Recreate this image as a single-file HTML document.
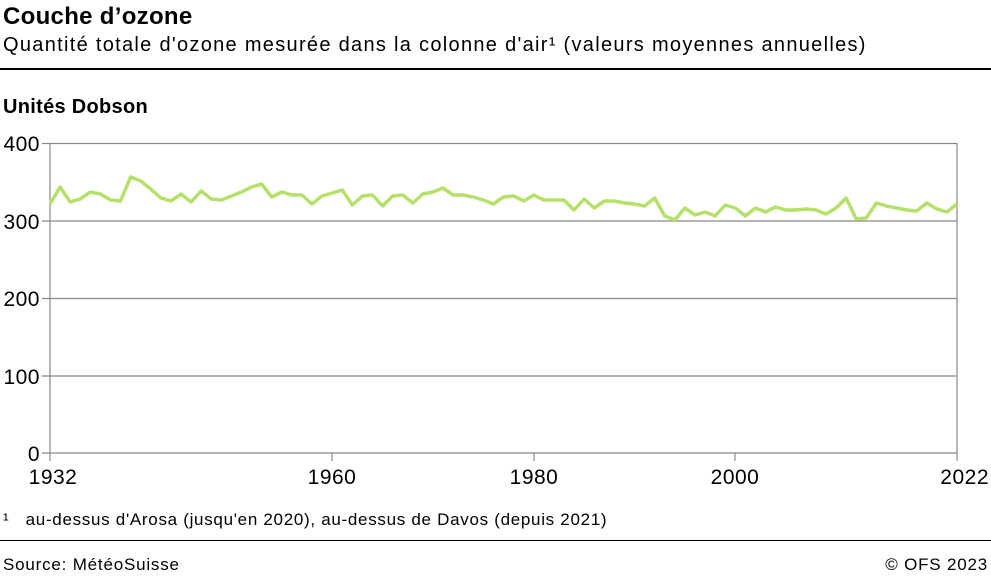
<!DOCTYPE html><html><head><meta charset="utf-8"><style>
body{margin:0;background:#fff;font-family:"Liberation Sans",sans-serif;}
.t{position:absolute;white-space:nowrap;color:#000}
</style></head><body><div style="position:relative;width:991px;height:580px;overflow:hidden">
<div class="t" style="left:3px;top:3px;font-size:24px;font-weight:bold;letter-spacing:0.3px">Couche d’ozone</div>
<div class="t" style="left:3px;top:34px;font-size:20px;letter-spacing:1.3px">Quantité totale d'ozone mesurée dans la colonne d'air¹ (valeurs moyennes annuelles)</div>
<div style="position:absolute;left:0;top:68px;width:991px;height:2px;background:#000"></div>
<div class="t" style="left:3px;top:96px;font-size:20px;font-weight:bold;letter-spacing:0.3px">Unités Dobson</div>
<svg width="991" height="580" style="position:absolute;left:0;top:0" font-family="Liberation Sans" font-size="21">
<g stroke="#888" stroke-width="1.2" fill="none">
<line x1="50" y1="143.5" x2="957" y2="143.5"/><line x1="957" y1="143" x2="957" y2="453"/>
<line x1="42" y1="221" x2="957" y2="221"/><line x1="42" y1="298.5" x2="957" y2="298.5"/><line x1="42" y1="376" x2="957" y2="376"/>
<line x1="42" y1="143.5" x2="50" y2="143.5"/>
<line x1="50" y1="143" x2="50" y2="461"/><line x1="42" y1="453" x2="957" y2="453"/>
<line x1="332" y1="453" x2="332" y2="461"/><line x1="534" y1="453" x2="534" y2="461"/><line x1="735" y1="453" x2="735" y2="461"/><line x1="957" y1="453" x2="957" y2="461"/>
</g>
<g text-anchor="end" fill="#000" letter-spacing="0.5"><text x="40" y="151">400</text><text x="40" y="229">300</text><text x="40" y="306">200</text><text x="40" y="384">100</text><text x="40" y="461">0</text></g>
<g text-anchor="middle" fill="#000" letter-spacing="0.5"><text x="53" y="484">1932</text><text x="332" y="484">1960</text><text x="534" y="484">1980</text><text x="735" y="484">2000</text><text x="989" y="484" text-anchor="end">2022</text></g>
<polyline fill="none" stroke="#b5e06a" stroke-width="3.5" stroke-linejoin="round" id="p"/>
</svg>
<div class="t" style="left:3px;top:510px;font-size:17px;letter-spacing:0.7px">¹&nbsp;&nbsp;&nbsp;au-dessus d'Arosa (jusqu'en 2020), au-dessus de Davos (depuis 2021)</div>
<div style="position:absolute;left:0;top:540px;width:991px;height:1px;background:#000"></div>
<div class="t" style="left:3px;top:555px;font-size:17px;letter-spacing:0.8px">Source: MétéoSuisse</div>
<div class="t" style="right:3px;top:555px;font-size:17px;letter-spacing:0.8px">© OFS 2023</div>
</div>
<script>
var y=[204,187,202,199,192,194,200,201,177,181,189,198,201,194,202,191,199,200,196,192,187,184,197,192,195,195,204,196,193,190,205,196,195,206,196,195,203,194,192,188,195,195,197,200,204,197,196,201,195,200,200,200,210,199,208,201,201,203,204,206,198,216,220,208,215,212,216,205,208,216,208,212,207,210,210,209,210,214,208,198,219,218,203,206,208,210,211,203,209,212,204,205];
y=y.slice(0,91);var s=[];for(var i=0;i<y.length;i++)s.push((50+i*907/90).toFixed(1)+","+y[i]);
document.getElementById("p").setAttribute("points",s.join(" "));
</script>
</body></html>
